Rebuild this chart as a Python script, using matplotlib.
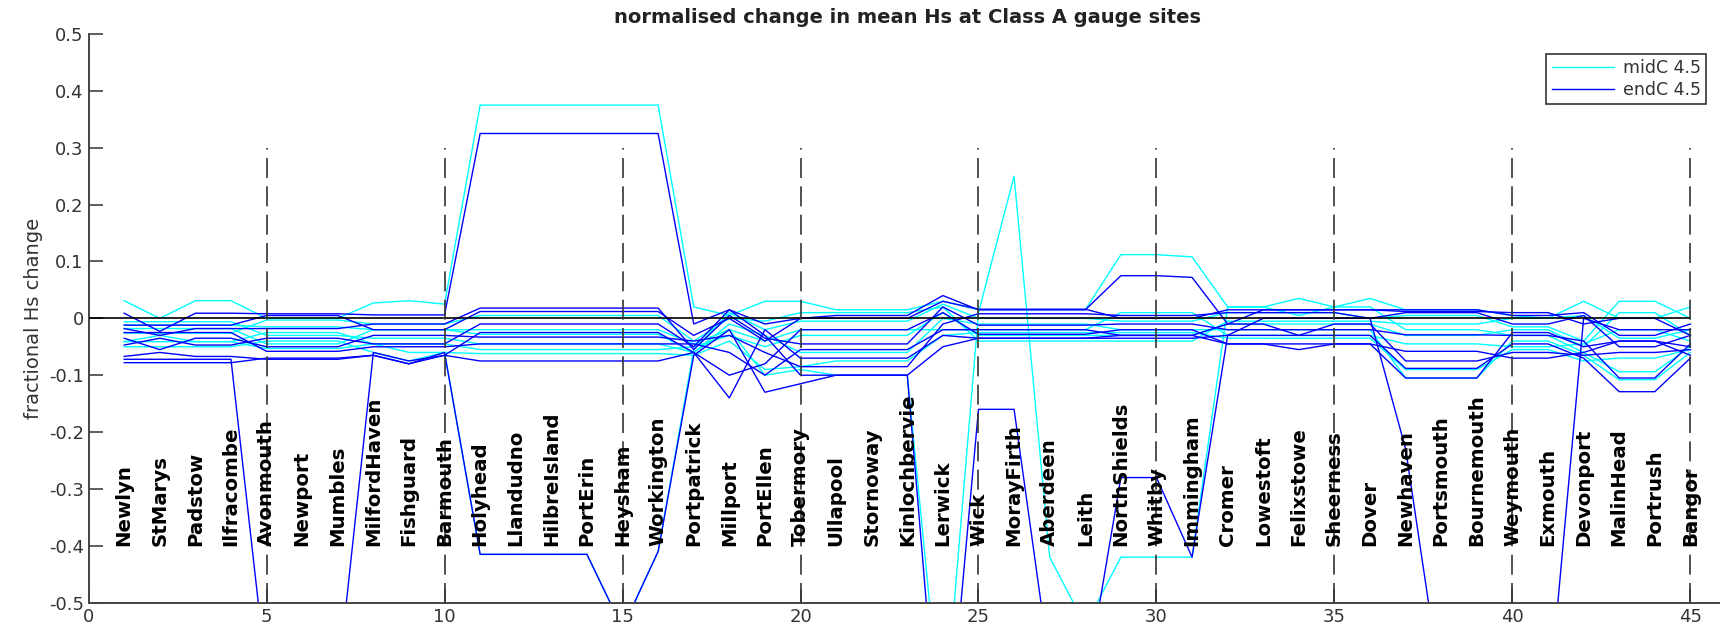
import numpy as np
import matplotlib
matplotlib.use("Agg")
import matplotlib.pyplot as plt

sites = ['Newlyn', 'StMarys', 'Padstow', 'Ilfracombe', 'Avonmouth',
         'Newport', 'Mumbles', 'MilfordHaven', 'Fishguard', 'Barmouth',
         'Holyhead', 'Llandudno', 'HilbreIsland', 'PortErin', 'Heysham',
         'Workington', 'Portpatrick', 'Millport', 'PortEllen', 'Tobermory',
         'Ullapool', 'Stornoway', 'Kinlochbervie', 'Lerwick', 'Wick',
         'MorayFirth', 'Aberdeen', 'Leith', 'NorthShields', 'Whitby',
         'Immingham', 'Cromer', 'Lowestoft', 'Felixstowe', 'Sheerness',
         'Dover', 'Newhaven', 'Portsmouth', 'Bournemouth', 'Weymouth',
         'Exmouth', 'Devonport', 'MalinHead', 'Portrush', 'Bangor']

# midC 4.5 (cyan) - one list per run, one value per site
mid_1 = [0.031, 0.0, 0.031, 0.031, 0.0,
         0.0, 0.0, 0.027, 0.031, 0.025,
         0.375, 0.375, 0.375, 0.375, 0.375,
         0.375, 0.02, 0.005, 0.03, 0.03,
         0.015, 0.015, 0.015, 0.03, 0.015,
         0.015, 0.015, 0.015, 0.112, 0.112,
         0.108, 0.02, 0.02, 0.035, 0.02,
         0.035, 0.015, 0.015, 0.015, 0.005,
         0.0, 0.03, 0.0, 0.0, 0.02]
mid_2 = [-0.041, -0.041, -0.041, -0.041, -0.025,
         -0.025, -0.025, -0.045, -0.06, -0.06,
         -0.415, -0.415, -0.415, -0.415, -0.545,
         -0.41, -0.055, 0.01, -0.02, -0.005,
         -0.005, -0.005, -0.005, 0.025, 0.0,
         0.0, 0.0, 0.0, -0.005, -0.005,
         -0.005, 0.01, 0.01, 0.01, 0.01,
         0.0, 0.005, 0.005, 0.005, -0.015,
         -0.015, -0.04, 0.03, 0.03, 0.0]
mid_3 = [-0.018, -0.018, -0.018, -0.018, -0.045,
         -0.045, -0.045, -0.02, -0.02, -0.02,
         -0.02, -0.02, -0.02, -0.02, -0.02,
         -0.02, -0.045, -0.02, -0.10, -0.09,
         -0.10, -0.10, -0.10, -0.74, 0.01,
         0.25, -0.42, -0.54, -0.42, -0.42,
         -0.42, 0.02, 0.02, 0.005, 0.02,
         0.02, -0.02, -0.02, -0.02, -0.03,
         -0.03, -0.06, -0.094, -0.094, -0.05]
mid_4 = [-0.006, -0.006, -0.006, -0.006, -0.03,
         -0.03, -0.03, -0.035, -0.035, -0.035,
         -0.045, -0.045, -0.045, -0.045, -0.045,
         -0.045, -0.06, -0.01, -0.03, -0.06,
         -0.06, -0.06, -0.06, 0.0, -0.01,
         -0.01, -0.01, -0.01, -0.02, -0.02,
         -0.02, -0.02, -0.02, -0.02, -0.02,
         -0.02, -0.105, -0.105, -0.105, -0.04,
         -0.04, -0.065, -0.108, -0.108, -0.06]
mid_5 = [-0.026, -0.026, -0.026, -0.026, -0.003,
         -0.003, -0.003, -0.01, -0.01, -0.01,
         0.005, 0.005, 0.005, 0.005, 0.005,
         0.005, -0.04, 0.0, -0.005, 0.01,
         0.01, 0.01, 0.01, 0.02, -0.04,
         -0.04, -0.04, -0.04, -0.04, -0.04,
         -0.04, -0.005, -0.005, -0.005, -0.005,
         -0.005, -0.01, -0.01, -0.01, 0.0,
         0.0, 0.005, -0.035, -0.035, -0.02]
mid_6 = [-0.041, -0.03, -0.041, -0.041, -0.053,
         -0.053, -0.053, -0.045, -0.045, -0.045,
         -0.055, -0.055, -0.055, -0.055, -0.055,
         -0.055, -0.05, -0.03, -0.05, -0.03,
         -0.03, -0.03, -0.03, 0.01, -0.03,
         -0.03, -0.03, -0.03, -0.03, -0.03,
         -0.03, -0.01, -0.01, -0.01, -0.01,
         -0.01, -0.03, -0.03, -0.03, -0.02,
         -0.02, -0.05, 0.01, 0.01, -0.03]
mid_7 = [-0.012, -0.012, -0.012, -0.012, -0.015,
         -0.015, -0.015, -0.02, -0.02, -0.02,
         -0.028, -0.028, -0.028, -0.028, -0.028,
         -0.028, -0.06, -0.02, -0.04, -0.02,
         -0.02, -0.02, -0.02, -0.02, -0.02,
         -0.02, -0.02, -0.02, 0.01, 0.01,
         0.01, -0.03, -0.03, -0.03, -0.03,
         -0.03, -0.045, -0.045, -0.045, -0.05,
         -0.05, -0.045, -0.02, -0.02, -0.04]
mid_8 = [-0.05, -0.05, -0.05, -0.05, -0.04,
         -0.04, -0.04, -0.06, -0.075, -0.06,
         -0.062, -0.062, -0.062, -0.062, -0.062,
         -0.062, -0.065, -0.04, -0.09, -0.085,
         -0.075, -0.075, -0.075, -0.03, -0.025,
         -0.025, -0.025, -0.025, -0.025, -0.025,
         -0.025, -0.035, -0.035, -0.035, -0.035,
         -0.035, -0.09, -0.09, -0.09, -0.055,
         -0.055, -0.075, -0.07, -0.07, -0.055]

# endC 4.5 (blue)
end_1 = [0.009, -0.023, 0.009, 0.009, 0.008,
         0.008, 0.008, 0.006, 0.006, 0.006,
         0.325, 0.325, 0.325, 0.325, 0.325,
         0.325, -0.01, 0.015, -0.01, 0.0,
         0.005, 0.005, 0.005, 0.04, 0.015,
         0.015, 0.015, 0.015, 0.075, 0.075,
         0.072, -0.01, 0.015, 0.015, 0.015,
         0.015, 0.015, 0.015, 0.015, 0.005,
         0.005, 0.01, -0.03, -0.03, -0.01]
end_2 = [-0.072, -0.072, -0.072, -0.072, -0.63,
         -0.63, -0.64, -0.06, -0.075, -0.065,
         -0.075, -0.075, -0.075, -0.075, -0.075,
         -0.075, -0.06, -0.14, -0.02, -0.07,
         -0.07, -0.07, -0.07, -0.03, -0.035,
         -0.035, -0.035, -0.035, -0.03, -0.03,
         -0.03, -0.045, -0.045, -0.055, -0.045,
         -0.045, -0.058, -0.058, -0.058, -0.07,
         -0.07, -0.06, -0.04, -0.04, -0.065]
end_3 = [-0.078, -0.078, -0.078, -0.078, -0.07,
         -0.07, -0.07, -0.065, -0.08, -0.06,
         -0.415, -0.415, -0.415, -0.415, -0.545,
         -0.41, -0.065, -0.02, -0.13, -0.115,
         -0.1, -0.1, -0.1, -0.05, -0.035,
         -0.035, -0.035, -0.035, -0.035, -0.035,
         -0.035, -0.03, -0.03, -0.03, -0.03,
         -0.03, -0.088, -0.088, -0.088, -0.045,
         -0.045, -0.07, -0.129, -0.129, -0.07]
end_4 = [-0.047, -0.035, -0.047, -0.047, -0.035,
         -0.035, -0.035, -0.045, -0.045, -0.045,
         -0.01, -0.01, -0.01, -0.01, -0.01,
         -0.01, -0.05, 0.015, -0.03, -0.1,
         -0.1, -0.1, -0.1, -0.85, -0.16,
         -0.16, -0.61, -0.65, -0.28, -0.28,
         -0.42, -0.03, 0.0, 0.0, 0.0,
         0.0, 0.01, 0.01, 0.01, -0.01,
         -0.01, 0.005, -0.05, -0.05, -0.03]
end_5 = [-0.035, -0.055, -0.035, -0.035, -0.05,
         -0.05, -0.05, -0.03, -0.03, -0.03,
         -0.033, -0.033, -0.033, -0.033, -0.033,
         -0.033, -0.04, -0.03, -0.06, -0.085,
         -0.085, -0.085, -0.085, -0.01, 0.008,
         0.008, 0.008, 0.008, 0.005, 0.005,
         0.005, 0.01, 0.01, 0.01, 0.01,
         0.0, -0.23, -0.65, -0.67, -0.68,
         -0.69, 0.0, -0.02, -0.02, -0.02]
end_6 = [-0.018, -0.03, -0.018, -0.018, -0.018,
         -0.018, -0.018, -0.01, -0.01, -0.01,
         0.018, 0.018, 0.018, 0.018, 0.018,
         0.018, -0.055, 0.005, -0.035, -0.045,
         -0.045, -0.045, -0.045, 0.02, -0.012,
         -0.012, -0.012, -0.012, -0.01, -0.01,
         -0.01, -0.02, -0.02, -0.02, -0.02,
         -0.02, -0.029, -0.029, -0.029, -0.03,
         -0.03, -0.04, -0.105, -0.105, -0.045]
end_7 = [-0.067, -0.06, -0.067, -0.067, -0.072,
         -0.072, -0.072, -0.065, -0.08, -0.065,
         -0.025, -0.025, -0.025, -0.025, -0.025,
         -0.025, -0.06, -0.1, -0.08, -0.02,
         -0.02, -0.02, -0.02, 0.01, -0.028,
         -0.028, -0.028, -0.028, -0.02, -0.02,
         -0.02, -0.045, -0.045, -0.045, -0.045,
         -0.045, -0.105, -0.105, -0.105, -0.025,
         -0.025, -0.05, -0.04, -0.04, -0.05]
end_8 = [-0.012, -0.012, -0.012, -0.012, 0.005,
         0.005, 0.005, -0.02, -0.02, -0.02,
         0.012, 0.012, 0.012, 0.012, 0.012,
         0.012, -0.03, 0.0, -0.04, 0.0,
         0.0, 0.0, 0.0, 0.03, 0.016,
         0.016, 0.016, 0.016, 0.0, 0.0,
         0.0, 0.015, 0.015, 0.015, 0.015,
         0.015, 0.012, 0.012, 0.012, 0.01,
         0.01, -0.01, 0.0, 0.0, -0.03]
end_9 = [-0.025, -0.025, -0.025, -0.025, -0.058,
         -0.058, -0.058, -0.05, -0.05, -0.05,
         -0.045, -0.045, -0.045, -0.045, -0.045,
         -0.045, -0.045, -0.06, -0.1, -0.055,
         -0.055, -0.055, -0.055, -0.02, -0.02,
         -0.02, -0.02, -0.02, -0.03, -0.03,
         -0.03, -0.01, -0.01, -0.03, -0.01,
         -0.01, -0.075, -0.075, -0.075, -0.06,
         -0.06, -0.065, -0.06, -0.06, -0.055]

mid_runs = [mid_1, mid_2, mid_3, mid_4, mid_5, mid_6, mid_7, mid_8]
end_runs = [end_1, end_2, end_3, end_4, end_5, end_6, end_7, end_8, end_9]

x = np.arange(1, len(sites) + 1)

fig = plt.figure(figsize=(17.2, 6.35), dpi=100)
ax = fig.add_axes([0.0515, 0.0509, 0.952, 0.8956])

for i, run in enumerate(mid_runs):
    ax.plot(x, run, color='#00ffff', lw=1.0,
            label='midC 4.5' if i == 0 else None)
for i, run in enumerate(end_runs):
    ax.plot(x, run, color='#0000ff', lw=1.0,
            label='endC 4.5' if i == 0 else None)

# zero line and dashed dividers every 5 sites
ax.plot([0, 45], [0, 0], color='black', lw=1.2, zorder=5)
for xv in range(5, 46, 5):
    ax.plot([xv, xv], [-0.5, 0.3], color='#333333', lw=1.2,
            linestyle=(0, (12, 5)), zorder=5)

for xi, name in zip(x, sites):
    ax.text(xi, -0.4, name, rotation=90, ha='center', va='bottom',
            fontsize=14.2, fontweight='bold', color='black', zorder=6)

ax.set_xlim(0, 46)
ax.set_ylim(-0.5, 0.5)
ax.set_xticks(np.arange(0, 46, 5))
ax.set_yticks(np.arange(-0.5, 0.51, 0.1))
ax.set_yticklabels([f"{v:g}" if abs(v) > 1e-9 else "0"
                    for v in np.round(np.arange(-0.5, 0.51, 0.1), 1)])
ax.tick_params(direction='in', length=10, width=1.2, colors='#444444',
               labelsize=13, labelcolor='#333333')
ax.spines['top'].set_visible(False)
ax.spines['right'].set_visible(False)
for s in ['left', 'bottom']:
    ax.spines[s].set_color('#444444')
    ax.spines[s].set_linewidth(1.4)

ax.set_ylabel('fractional Hs change', fontsize=14, color='#333333',
              labelpad=4)
ax.set_title('normalised change in mean Hs at Class A gauge sites',
             fontsize=14, fontweight='bold', color='#222222', pad=8)

leg = ax.legend(loc='upper right', bbox_to_anchor=(1706 / 1720, 1 - 54 / 635),
                bbox_transform=fig.transFigure, borderaxespad=0,
                fontsize=12.5, handlelength=3.6, fancybox=False,
                framealpha=1, edgecolor='#333333', borderpad=0.3,
                labelspacing=0.2, handletextpad=0.5)
leg.get_frame().set_linewidth(1.2)
for t in leg.get_texts():
    t.set_color('#333333')

fig.savefig('out.png', dpi=100)
